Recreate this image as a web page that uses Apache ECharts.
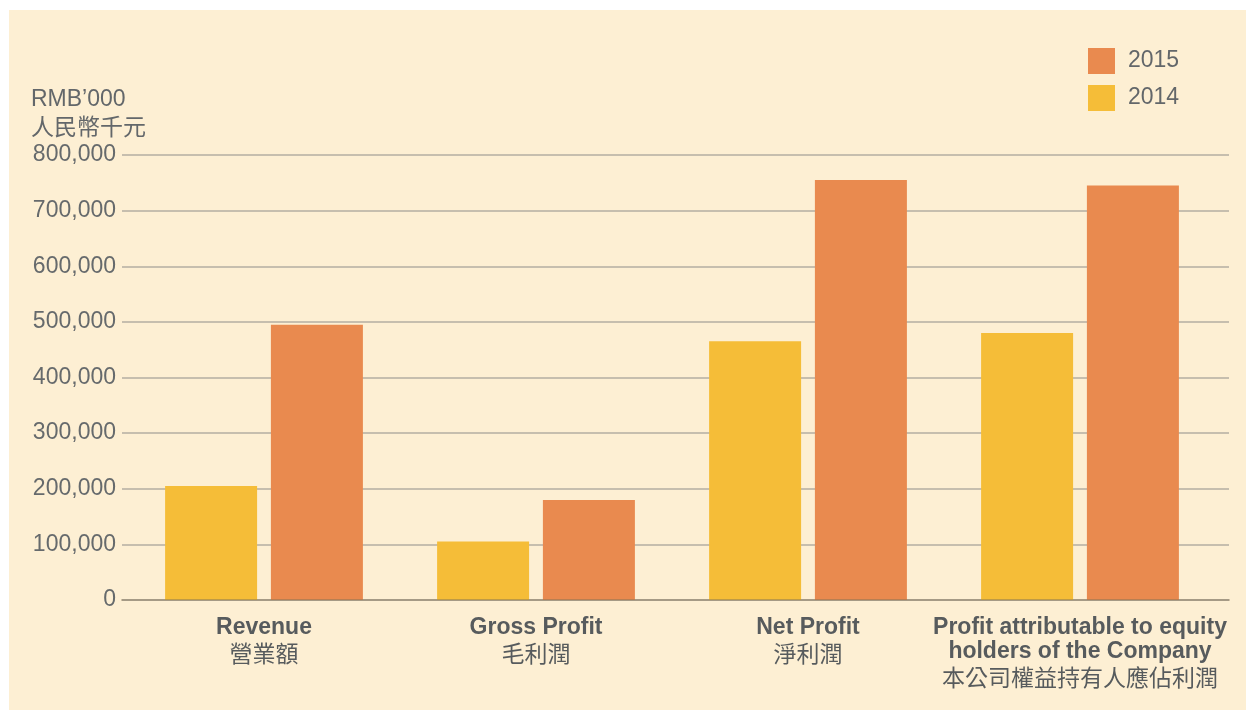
<!DOCTYPE html>
<html>
<head>
<meta charset="utf-8">
<script src="https://cdn.jsdelivr.net/npm/echarts@6/dist/echarts.min.js"></script>
<style>
html,body{margin:0;padding:0;background:#ffffff;}
#c{width:1246px;height:710px;}
</style>
</head>
<body>
<div id="c"></div>
<script>
var categoriesEn = ['Revenue', 'Gross Profit', 'Net Profit', 'Profit attributable to equity\nholders of the Company'];
var categoriesZh = ['營業額', '毛利潤', '淨利潤', '本公司權益持有人應佔利潤'];
var values2014 = [205000, 105000, 465000, 480000];
var values2015 = [495000, 180000, 755000, 745000];
var yTicks = { min: 0, max: 800000, interval: 100000 };
var unitLabel = 'RMB\u2019000\n人民幣千元';

var cats = categoriesEn.map(function (e, i) { return e + '|' + categoriesZh[i]; });

var chart = echarts.init(document.getElementById('c'));
var txt = '#63676a';
chart.setOption({
  backgroundColor: '#ffffff',
  animation: false,
  textStyle: { fontFamily: 'Liberation Sans, Arial, sans-serif' },
  graphic: [{
    type: 'rect', z: -100, silent: true,
    shape: { x: 9, y: 10, width: 1237, height: 700 },
    style: { fill: '#FDEFD3' }
  }],
  title: {
    text: unitLabel,
    left: 31, top: 85, padding: 0,
    textStyle: { fontSize: 23, fontWeight: 'normal', color: txt, lineHeight: 29,
      fontFamily: 'Liberation Sans, Noto Sans CJK TC, sans-serif' }
  },
  legend: {
    data: ['2015', '2014'],
    orient: 'vertical',
    left: 1088, top: 48, padding: 0,
    itemWidth: 27, itemHeight: 26, itemGap: 11,
    icon: 'rect',
    textStyle: { fontSize: 23, color: txt, padding: [0, 0, 0, 8] }
  },
  grid: [
    { left: 122, right: 17, top: 155, bottom: 110 },
    { left: 128, right: 30, top: 155, bottom: 110 }
  ],
  xAxis: [
    { gridIndex: 0, type: 'category', data: cats, z: 10,
      axisLine: { show: true, lineStyle: { color: 'rgba(125,110,85,0.45)', width: 2 } },
      axisTick: { show: false }, axisLabel: { show: false }, splitLine: { show: false } },
    { gridIndex: 1, type: 'category', data: cats,
      axisLine: { show: false }, axisTick: { show: false },
      axisLabel: {
        interval: 0, margin: 16,
        formatter: function (v) {
          var p = v.split('|');
          var en = p[0].split('\n').map(function (l) { return '{b|' + l + '}'; }).join('\n');
          return en + '\n{c|' + p[1] + '}';
        },
        rich: {
          b: { fontSize: 23, fontWeight: 'bold', color: '#575b5d', lineHeight: 24,
               fontFamily: 'Liberation Sans, Arial, sans-serif' },
          c: { fontSize: 23, color: '#575b5d', lineHeight: 27,
               fontFamily: 'Noto Sans CJK TC, sans-serif' }
        }
      } }
  ],
  yAxis: [
    { gridIndex: 0, type: 'value', min: yTicks.min, max: yTicks.max, interval: yTicks.interval,
      axisLine: { show: false }, axisTick: { show: false },
      axisLabel: { fontSize: 23, color: '#666a6c', margin: 6,
        formatter: function (v) { return v.toLocaleString('en-US'); } },
      splitLine: { lineStyle: { color: '#c6beae', width: 2 } } },
    { gridIndex: 1, type: 'value', min: yTicks.min, max: yTicks.max, interval: yTicks.interval,
      show: false, splitLine: { show: false } }
  ],
  series: [
    { name: '2014', type: 'bar', xAxisIndex: 1, yAxisIndex: 1, data: values2014,
      barWidth: 92, barGap: '15%', itemStyle: { color: '#F5BD38' } },
    { name: '2015', type: 'bar', xAxisIndex: 1, yAxisIndex: 1, data: values2015,
      barWidth: 92, barGap: '15%', itemStyle: { color: '#E98A4F' } }
  ]
});
</script>
</body>
</html>
